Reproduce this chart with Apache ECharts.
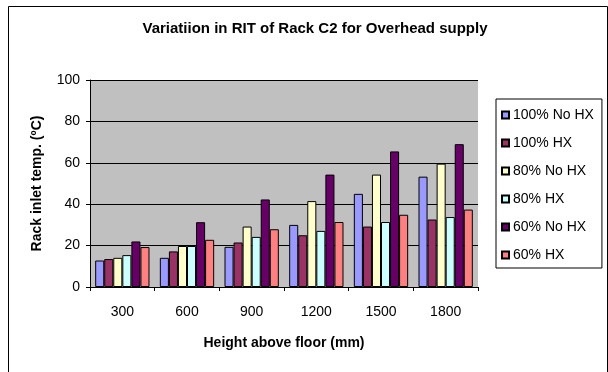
<!DOCTYPE html>
<html>
<head>
<meta charset="utf-8">
<script src="https://cdn.jsdelivr.net/npm/echarts@6/dist/echarts.min.js"></script>
<style>html,body{margin:0;padding:0;background:#fff}#c{width:608px;height:372px}</style>
</head>
<body>
<div id="c"></div>
<script>
const categories = ['300', '600', '900', '1200', '1500', '1800'];
const seriesNames = ['100% No HX', '100% HX', '80% No HX', '80% HX', '60% No HX', '60% HX'];
const s100NoHX = [12.8, 14.1, 19.4, 30.0, 45.0, 53.3];
const s100HX   = [13.5, 17.2, 21.5, 25.0, 29.2, 32.6];
const s80NoHX  = [14.1, 19.8, 29.2, 41.5, 54.3, 59.6];
const s80HX    = [15.4, 19.8, 24.2, 27.1, 31.4, 33.8];
const s60NoHX  = [22.0, 31.3, 42.3, 54.3, 65.5, 69.0];
const s60HX    = [19.3, 22.8, 27.9, 31.4, 34.9, 37.4];
const yTicks = [0, 20, 40, 60, 80, 100];
const colors = ['#9999FF', '#993366', '#FFFFCC', '#CCFFFF', '#660066', '#FF8080'];

const allData = [s100NoHX, s100HX, s80NoHX, s80HX, s60NoHX, s60HX];
const chart = echarts.init(document.getElementById('c'), null, {renderer: 'canvas'});
const FONT = 'Liberation Sans, Arial, sans-serif';
chart.setOption({
  animation: false,
  backgroundColor: '#fff',
  title: {
    text: 'Variatiion in RIT of Rack C2 for Overhead supply',
    left: 310, top: 16, textAlign: 'center',
    textStyle: {fontFamily: FONT, fontSize: 15, fontWeight: 'bold', color: '#000'}
  },
  graphic: [{
    type: 'rect', left: 6, top: 4, z: -10,
    shape: {width: 599, height: 380},
    style: {fill: 'none', stroke: '#000', lineWidth: 1}
  }],
  legend: {
    orient: 'vertical', left: 496, top: 99, width: 100,
    padding: [9, 8, 6, 5],
    itemWidth: 7, itemHeight: 7, itemGap: 14,
    borderColor: '#000', borderWidth: 1,
    icon: 'rect',
    textStyle: {fontFamily: FONT, fontSize: 14, color: '#000', padding: [0, 0, 0, -1]},
    data: seriesNames
  },
  grid: {left: 90, right: 130, top: 80, bottom: 85, show: true, backgroundColor: '#C0C0C0', borderWidth: 0},
  xAxis: {
    type: 'category', data: categories,
    name: 'Height above floor (mm)', nameLocation: 'middle', nameGap: 49,
    nameTextStyle: {fontFamily: FONT, fontSize: 14, fontWeight: 'bold', color: '#000'},
    axisLine: {lineStyle: {color: '#000', width: 1}},
    axisTick: {show: true, length: 4, lineStyle: {color: '#000'}},
    axisLabel: {fontFamily: FONT, fontSize: 14, color: '#000', margin: 18}
  },
  yAxis: {
    type: 'value', min: 0, max: 100, interval: 20,
    name: 'Rack inlet temp. (ºC)', nameLocation: 'middle', nameGap: 46,
    nameTextStyle: {fontFamily: FONT, fontSize: 14, fontWeight: 'bold', color: '#000'},
    axisLine: {show: true, lineStyle: {color: '#000', width: 1}},
    axisTick: {show: true, length: 4, lineStyle: {color: '#000'}},
    axisLabel: {fontFamily: FONT, fontSize: 14, color: '#000', margin: 10,
      formatter: v => yTicks.includes(v) ? String(v) : ''},
    splitLine: {show: true, lineStyle: {color: '#000', width: 1}}
  },
  series: seriesNames.map((n, i) => ({
    name: n, type: 'bar', data: allData[i],
    barGap: '0%', barCategoryGap: '16%',
    itemStyle: {color: colors[i], borderColor: '#000', borderWidth: 1}
  }))
});
</script>
</body>
</html>
